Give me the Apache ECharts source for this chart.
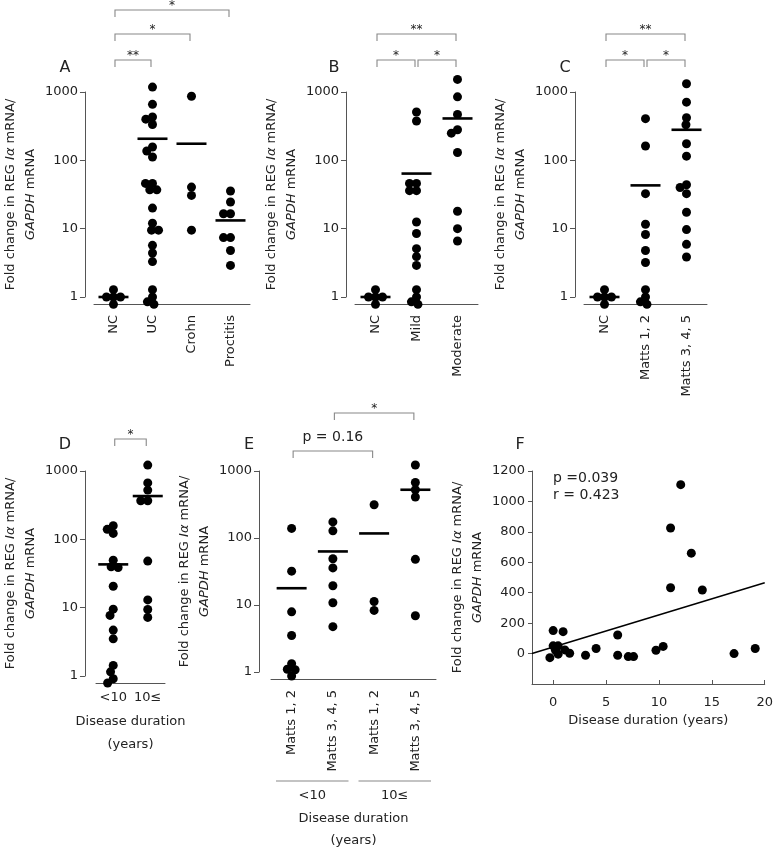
<!DOCTYPE html>
<html><head><meta charset="utf-8">
<script src="https://cdn.jsdelivr.net/npm/echarts@6/dist/echarts.min.js"></script>
<style>html,body{margin:0;padding:0;background:#fff}#c{width:776px;height:853px}</style>
</head><body><div id="c"></div>
<script>
// ---------------- DATA ----------------
const catsA = ['NC', 'UC', 'Crohn', 'Proctitis'];
const aNC = [1.0, 1.28, 0.78, 1.0, 1.0];
const aUC = [1180, 660, 430, 400, 335, 157, 137, 112, 46, 46, 37, 37, 20, 12, 9.5, 9.5, 5.7, 4.4, 3.3, 1.28, 1.0, 0.85, 0.78];
const aCrohn = [866, 40.6, 30.7, 9.5];
const aProctitis = [35.6, 24.6, 16.5, 16.5, 7.4, 7.4, 4.8, 2.9];
const aMeans = [1.0, 207, 175, 13.2];
const aSig = [[0, 1, '**'], [0, 2, '*'], [0, 3, '*']];

const catsB = ['NC', 'Mild', 'Moderate'];
const bNC = [1.0, 1.28, 0.78, 1.0, 1.0];
const bMild = [510, 377, 46, 46, 36, 36, 12.5, 8.5, 5.1, 3.9, 2.9, 1.28, 1.0, 0.85, 0.78];
const bModerate = [1530, 850, 470, 280, 250, 130, 18, 10, 6.6];
const bMeans = [1.0, 64, 410];
const bSig = [[0, 1, '*'], [1, 2, '*'], [0, 2, '**']];

const catsC = ['NC', 'Matts 1, 2', 'Matts 3, 4, 5'];
const cNC = [1.0, 1.28, 0.78, 1.0, 1.0];
const cMatts12 = [407, 162, 32.5, 11.6, 8.2, 4.8, 3.2, 1.28, 1.0, 0.85, 0.78];
const cMatts345 = [1320, 710, 420, 332, 175, 115, 44, 40, 32.5, 17.4, 9.7, 5.9, 3.85];
const cMeans = [1.0, 43, 280];
const cSig = [[0, 1, '*'], [1, 2, '*'], [0, 2, '**']];

const catsD = ['<10', '10≤'];
const dLess10 = [158, 140, 122, 49.6, 39.6, 38.7, 20.6, 9.5, 7.7, 4.7, 3.5, 1.43, 1.15, 0.91, 0.79];
const d10More = [1220, 670, 525, 367, 367, 48, 13, 9.4, 7.2];
const dMeans = [43, 430];
const dSig = [[0, 1, '*']];

const catsE = ['Matts 1, 2', 'Matts 3, 4, 5', 'Matts 1, 2', 'Matts 3, 4, 5'];
const durationE = ['<10', '10≤'];
const eLess10Matts12 = [139, 32, 7.9, 3.5, 1.33, 1.1, 1.08, 0.87];
const eLess10Matts345 = [174, 128, 49, 35.8, 19.4, 10.8, 4.75];
const eMore10Matts12 = [313, 11.3, 8.3];
const eMore10Matts345 = [1230, 674, 525, 410, 48, 6.9];
const eMeans = [17.8, 63, 117, 525];
const eSig = [[0, 2, 'p = 0.16'], [1, 3, '*']];

const fDuration = [0, 0.94, 0, 0.47, 0.22, 1.1, 0.47, -0.31, 1.56, 3.06, 4.06, 6.1, 6.1, 7.1, 7.6, 9.72, 10.4, 11.1, 11.1, 12.06, 13.06, 14.1, 17.1, 19.1];
const fFold = [151, 144, 51, 51, 22, 24, -4, -27, 2, -11, 33, 122, -11, -20, -20, 22, 47, 433, 825, 1110, 660, 418, 0, 33];
const fFitX = [-2, 20];
const fFitY = [0, 465];
const fStats = ['p =0.039', 'r = 0.423'];
const fXTicks = [0, 5, 10, 15, 20];
const fYTicks = [0, 200, 400, 600, 800, 1000, 1200];

// ---------------- STYLE / LAYOUT ----------------
const FONT = 'DejaVu Sans';
const TXT = '#222';
const AX = '#555';
const BR = '#888';
const FS = 13;

const yName = '{n|Fold change in REG }{i|I\u03b1}{n| mRNA/}\n{i|GAPDH}{n| mRNA}';
const nameStyle = {
  fontFamily: FONT, fontSize: FS, color: TXT, lineHeight: 20,
  rich: {
    n: {fontFamily: FONT, fontSize: FS, color: TXT, lineHeight: 20},
    i: {fontFamily: FONT, fontSize: FS, color: TXT, lineHeight: 20, fontStyle: 'italic'}
  }
};

const panels = [
  {cats: catsA, groups: [aNC, aUC, aCrohn, aProctitis], means: aMeans, sig: aSig},
  {cats: catsB, groups: [bNC, bMild, bModerate], means: bMeans, sig: bSig},
  {cats: catsC, groups: [cNC, cMatts12, cMatts345], means: cMeans, sig: cSig},
  {cats: catsD, groups: [dLess10, d10More], means: dMeans, sig: dSig},
  {cats: catsE, groups: [eLess10Matts12, eLess10Matts345, eMore10Matts12, eMore10Matts345], means: eMeans, sig: eSig}
];
const layout = [
  {grid: {left: 83, top: 92, width: 167, height: 205}, yOffset: 9, rotate: 90, levels: [32, 58, 82], letter: 'A', lx: 65, ly: 68},
  {grid: {left: 355, top: 92, width: 123, height: 205}, yOffset: 9, rotate: 90, levels: [32, 32, 58], letter: 'B', lx: 334, ly: 68},
  {grid: {left: 584, top: 92, width: 123, height: 205}, yOffset: 9, rotate: 90, levels: [32, 32, 58], letter: 'C', lx: 565, ly: 68},
  {grid: {left: 85, top: 471, width: 80, height: 205}, yOffset: 11, rotate: 0, levels: [32], letter: 'D', lx: 65, ly: 445},
  {grid: {left: 271, top: 471, width: 165, height: 205}, yOffset: 12, rotate: 90, levels: [20, 58], letter: 'E', lx: 249, ly: 445}
];

function meanRender(params, api) {
  const p = api.coord([api.value(0), api.value(1)]);
  return {type: 'line', shape: {x1: p[0] - 15, y1: p[1], x2: p[0] + 15, y2: p[1]},
    style: {stroke: '#000', lineWidth: 2.6}};
}
function bracketRender(panel, L) {
  return function (params, api) {
    const s = panel.sig[params.dataIndex];
    const lvl = L.levels[params.dataIndex];
    const y = params.coordSys.y - lvl;
    const x1 = api.coord([s[0], 1000])[0] + 1.5;
    const x2 = api.coord([s[1], 1000])[0] - 1.5;
    const isStar = s[2].indexOf('*') === 0;
    return {type: 'group', children: [
      {type: 'polyline', shape: {points: [[x1, y + 7], [x1, y], [x2, y], [x2, y + 7]]},
        style: {stroke: BR, lineWidth: 1.1, fill: null}},
      {type: 'text', x: (x1 + x2) / 2, y: isStar ? y - 4 : y - 14,
        style: {text: s[2], fill: TXT, align: 'center', verticalAlign: 'middle',
          font: (isStar ? 12 : 14) + 'px "' + FONT + '"'}}
    ]};
  };
}

const grids = [], xAxes = [], yAxes = [], series = [], graphics = [];
const labelFmt = v => String(Math.round(v));

panels.forEach((p, k) => {
  const L = layout[k];
  grids.push(L.grid);
  const xa = {
    gridIndex: k, type: 'category', data: p.cats, offset: 7,
    jitter: 36, jitterOverlap: false, jitterMargin: -2,
    axisLine: {show: true, onZero: false, lineStyle: {color: AX, width: 1}},
    axisTick: {show: false},
    axisLabel: {rotate: L.rotate, margin: L.rotate ? 11 : 8, fontFamily: FONT, fontSize: FS, color: TXT, interval: 0},
    splitLine: {show: false}
  };
  if (k === 3) {
    xa.name = 'Disease duration\n(years)';
    xa.nameLocation = 'middle';
    xa.nameGap = 27;
    xa.nameTextStyle = {fontFamily: FONT, fontSize: FS, color: TXT, lineHeight: 23};
  }
  xAxes.push(xa);
  yAxes.push({
    gridIndex: k, type: 'log', logBase: 10, min: 1, max: 1000, offset: L.yOffset,
    axisLine: {show: true, onZero: false, lineStyle: {color: AX, width: 1}},
    axisTick: {show: true, length: 5, lineStyle: {color: AX}},
    axisLabel: {margin: 7, fontFamily: FONT, fontSize: FS, color: TXT, formatter: labelFmt},
    splitLine: {show: false},
    name: yName, nameLocation: 'middle', nameRotate: 90, nameGap: 36, nameTextStyle: nameStyle
  });
  const pts = [];
  p.groups.forEach((g, ci) => g.forEach(v => pts.push([ci, v])));
  series.push({type: 'scatter', xAxisIndex: k, yAxisIndex: k, data: pts, symbolSize: 9,
    itemStyle: {color: '#000', opacity: 1}, clip: false, silent: true, z: 3});
  series.push({type: 'custom', xAxisIndex: k, yAxisIndex: k, data: p.means.map((m, i) => [i, m]),
    renderItem: meanRender, clip: false, silent: true, z: 4});
  series.push({type: 'custom', xAxisIndex: k, yAxisIndex: k, data: p.sig.map(s => [s[0], 1000, s[1]]),
    renderItem: bracketRender(p, L), clip: false, silent: true, z: 4});
  graphics.push({type: 'text', x: L.lx, y: L.ly,
    style: {text: L.letter, font: '16px "' + FONT + '"', fill: TXT, align: 'center', verticalAlign: 'middle'}});
});

// Panel F
grids.push({left: 532, top: 471, width: 234.7, height: 213});
xAxes.push({
  gridIndex: 5, type: 'value', min: -2, max: 20,
  axisLine: {show: true, onZero: false, lineStyle: {color: AX}},
  axisTick: {show: true, inside: true, length: 4, customValues: fXTicks, lineStyle: {color: AX}},
  axisLabel: {customValues: fXTicks, margin: 12, fontFamily: FONT, fontSize: FS, color: TXT, formatter: labelFmt},
  splitLine: {show: false},
  name: 'Disease duration (years)', nameLocation: 'middle', nameGap: 30,
  nameTextStyle: {fontFamily: FONT, fontSize: FS, color: TXT}
});
yAxes.push({
  gridIndex: 5, type: 'value', min: -200, max: 1200, interval: 200,
  axisLine: {show: true, onZero: false, lineStyle: {color: AX}},
  axisTick: {show: true, length: 4, customValues: fYTicks, lineStyle: {color: AX}},
  axisLabel: {customValues: fYTicks, margin: 7, fontFamily: FONT, fontSize: FS, color: TXT, formatter: labelFmt},
  splitLine: {show: false},
  name: yName, nameLocation: 'middle', nameRotate: 90, nameGap: 35, nameTextStyle: nameStyle
});
series.push({type: 'scatter', xAxisIndex: 5, yAxisIndex: 5, data: fDuration.map((x, i) => [x, fFold[i]]),
  symbolSize: 9, itemStyle: {color: '#000', opacity: 1}, silent: true, z: 3});
series.push({type: 'line', xAxisIndex: 5, yAxisIndex: 5, data: fFitX.map((x, i) => [x, fFitY[i]]),
  showSymbol: false, symbol: 'none', lineStyle: {color: '#000', width: 1.5}, silent: true, z: 2});
graphics.push({type: 'text', x: 520, y: 445,
  style: {text: 'F', font: '16px "' + FONT + '"', fill: TXT, align: 'center', verticalAlign: 'middle'}});
fStats.forEach((t, i) => graphics.push({type: 'text', x: 553, y: 478 + i * 17,
  style: {text: t, font: '14px "' + FONT + '"', fill: TXT, align: 'left', verticalAlign: 'middle'}}));

// Panel E secondary axis (disease duration groups)
xAxes.push({
  gridIndex: 4, type: 'category', data: durationE, position: 'bottom', offset: 109,
  axisLine: {show: false}, axisTick: {show: false},
  axisLabel: {margin: 8, fontFamily: FONT, fontSize: FS, color: TXT, interval: 0},
  splitLine: {show: false},
  name: 'Disease duration\n(years)', nameLocation: 'middle', nameGap: 27,
  nameTextStyle: {fontFamily: FONT, fontSize: FS, color: TXT, lineHeight: 22}
});
series.push({type: 'custom', xAxisIndex: 6, yAxisIndex: 4, data: durationE.map((d, i) => [i, 10]),
  clip: false, silent: true,
  renderItem: function (params, api) {
    const cs = params.coordSys;
    const bw = cs.width / durationE.length;
    const c = api.coord([api.value(0), 10])[0];
    const y = cs.y + cs.height + 109;
    return {type: 'line', shape: {x1: c - bw / 2 + 5, y1: y, x2: c + bw / 2 - 5, y2: y},
      style: {stroke: BR, lineWidth: 1.2}};
  }});

const chart = echarts.init(document.getElementById('c'), null, {renderer: 'canvas'});
chart.setOption({
  animation: false,
  backgroundColor: '#fff',
  textStyle: {fontFamily: FONT},
  grid: grids, xAxis: xAxes, yAxis: yAxes, series: series, graphic: graphics
});
</script></body></html>
